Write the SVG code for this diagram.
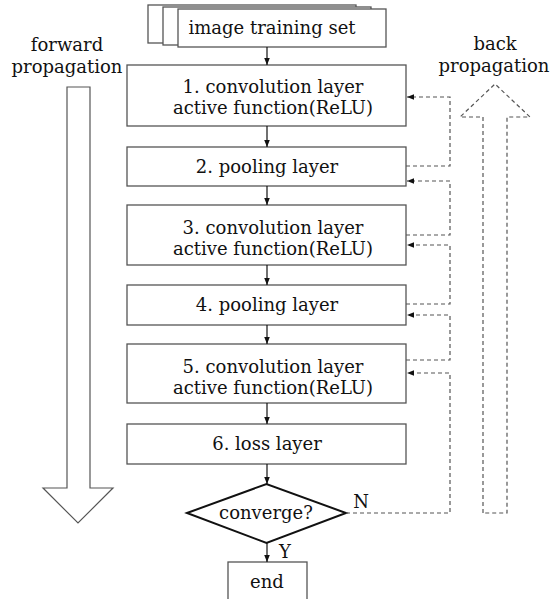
<svg xmlns="http://www.w3.org/2000/svg" width="550" height="599" viewBox="0 0 550 599">
<defs>
<style>
.box{fill:#fff;stroke:#555;stroke-width:1.3}
.t{font-family:"DejaVu Serif","Liberation Serif",serif;font-size:18px;fill:#111;text-anchor:middle}
.flow{stroke:#111;stroke-width:1.2;fill:none}
.dash{stroke:#555;stroke-width:1.2;fill:none;stroke-dasharray:4 3}
</style>
<marker id="ah" viewBox="0 0 10 10" refX="10" refY="5" markerWidth="7" markerHeight="7" markerUnits="userSpaceOnUse" orient="auto">
<path d="M0,1 L10,5 L0,9 Z" fill="#111"/>
</marker>
</defs>
<rect width="550" height="599" fill="#fff"/>

<g id="side-labels">
<text class="t" x="67" y="51">forward</text>
<text class="t" x="67" y="73">propagation</text>
<text class="t" x="495" y="50">back</text>
<text class="t" x="494" y="72">propagation</text>
</g>
<g id="forward-arrow">
<path d="M67,87 H90 V488 H113 L78,523 L43,488 H67 Z" fill="none" stroke="#555" stroke-width="1.2"/>
</g>
<g id="back-arrow">
<path d="M483,513 V117 H460 L495,84 L530,117 H507 V513 Z" class="dash"/>
</g>

<g id="n0">
<rect class="box" x="148" y="5" width="208" height="38"/>
<rect class="box" x="163" y="7" width="208" height="38"/>
<rect class="box" x="178" y="9" width="208" height="38"/>
<text class="t" x="272" y="34">image training set</text>
</g>
<g id="n1">
<rect class="box" x="127" y="65" width="279" height="61"/>
<text class="t" x="273" y="93">1. convolution layer</text>
<text class="t" x="273" y="114">active function(ReLU)</text>
</g>
<g id="n2">
<rect class="box" x="127" y="147" width="279" height="39"/>
<text class="t" x="267" y="173">2. pooling layer</text>
</g>
<g id="n3">
<rect class="box" x="127" y="205" width="279" height="60"/>
<text class="t" x="273" y="234">3. convolution layer</text>
<text class="t" x="273" y="255">active function(ReLU)</text>
</g>
<g id="n4">
<rect class="box" x="127" y="285" width="279" height="40"/>
<text class="t" x="267" y="311">4. pooling layer</text>
</g>
<g id="n5">
<rect class="box" x="127" y="344" width="279" height="59"/>
<text class="t" x="273" y="373">5. convolution layer</text>
<text class="t" x="273" y="394">active function(ReLU)</text>
</g>
<g id="n6">
<rect class="box" x="127" y="424" width="279" height="40"/>
<text class="t" x="267" y="450">6. loss layer</text>
</g>
<g id="n7">
<path d="M187,513 L266.5,484 L346,513 L266.5,543 Z" fill="#fff" stroke="#111" stroke-width="2"/>
<text class="t" x="266" y="519">converge?</text>
</g>
<g id="n8">
<rect class="box" x="228" y="562" width="79" height="45"/>
<text class="t" x="267" y="588">end</text>
</g>

<g id="connectors">
<line class="flow" x1="267" y1="47" x2="267" y2="65" marker-end="url(#ah)"/>
<line class="flow" x1="267" y1="126" x2="267" y2="147" marker-end="url(#ah)"/>
<line class="flow" x1="267" y1="186" x2="267" y2="205" marker-end="url(#ah)"/>
<line class="flow" x1="267" y1="265" x2="267" y2="285" marker-end="url(#ah)"/>
<line class="flow" x1="267" y1="325" x2="267" y2="344" marker-end="url(#ah)"/>
<line class="flow" x1="267" y1="403" x2="267" y2="424" marker-end="url(#ah)"/>
<line class="flow" x1="267" y1="464" x2="267" y2="484" marker-end="url(#ah)"/>
<line class="flow" x1="267" y1="543" x2="267" y2="562" marker-end="url(#ah)"/>

<path class="dash" d="M406,166 H450 V97 H407" marker-end="url(#ah)"/>
<path class="dash" d="M406,235 H450 V181 H407" marker-end="url(#ah)"/>
<path class="dash" d="M406,304 H450 V245 H407" marker-end="url(#ah)"/>
<path class="dash" d="M406,360 H450 V315 H407" marker-end="url(#ah)"/>
<path class="dash" d="M346,513 H450 V373 H407" marker-end="url(#ah)"/>
<text class="t" x="361" y="508">N</text>
<text class="t" x="285" y="558">Y</text>
</g>
</svg>
